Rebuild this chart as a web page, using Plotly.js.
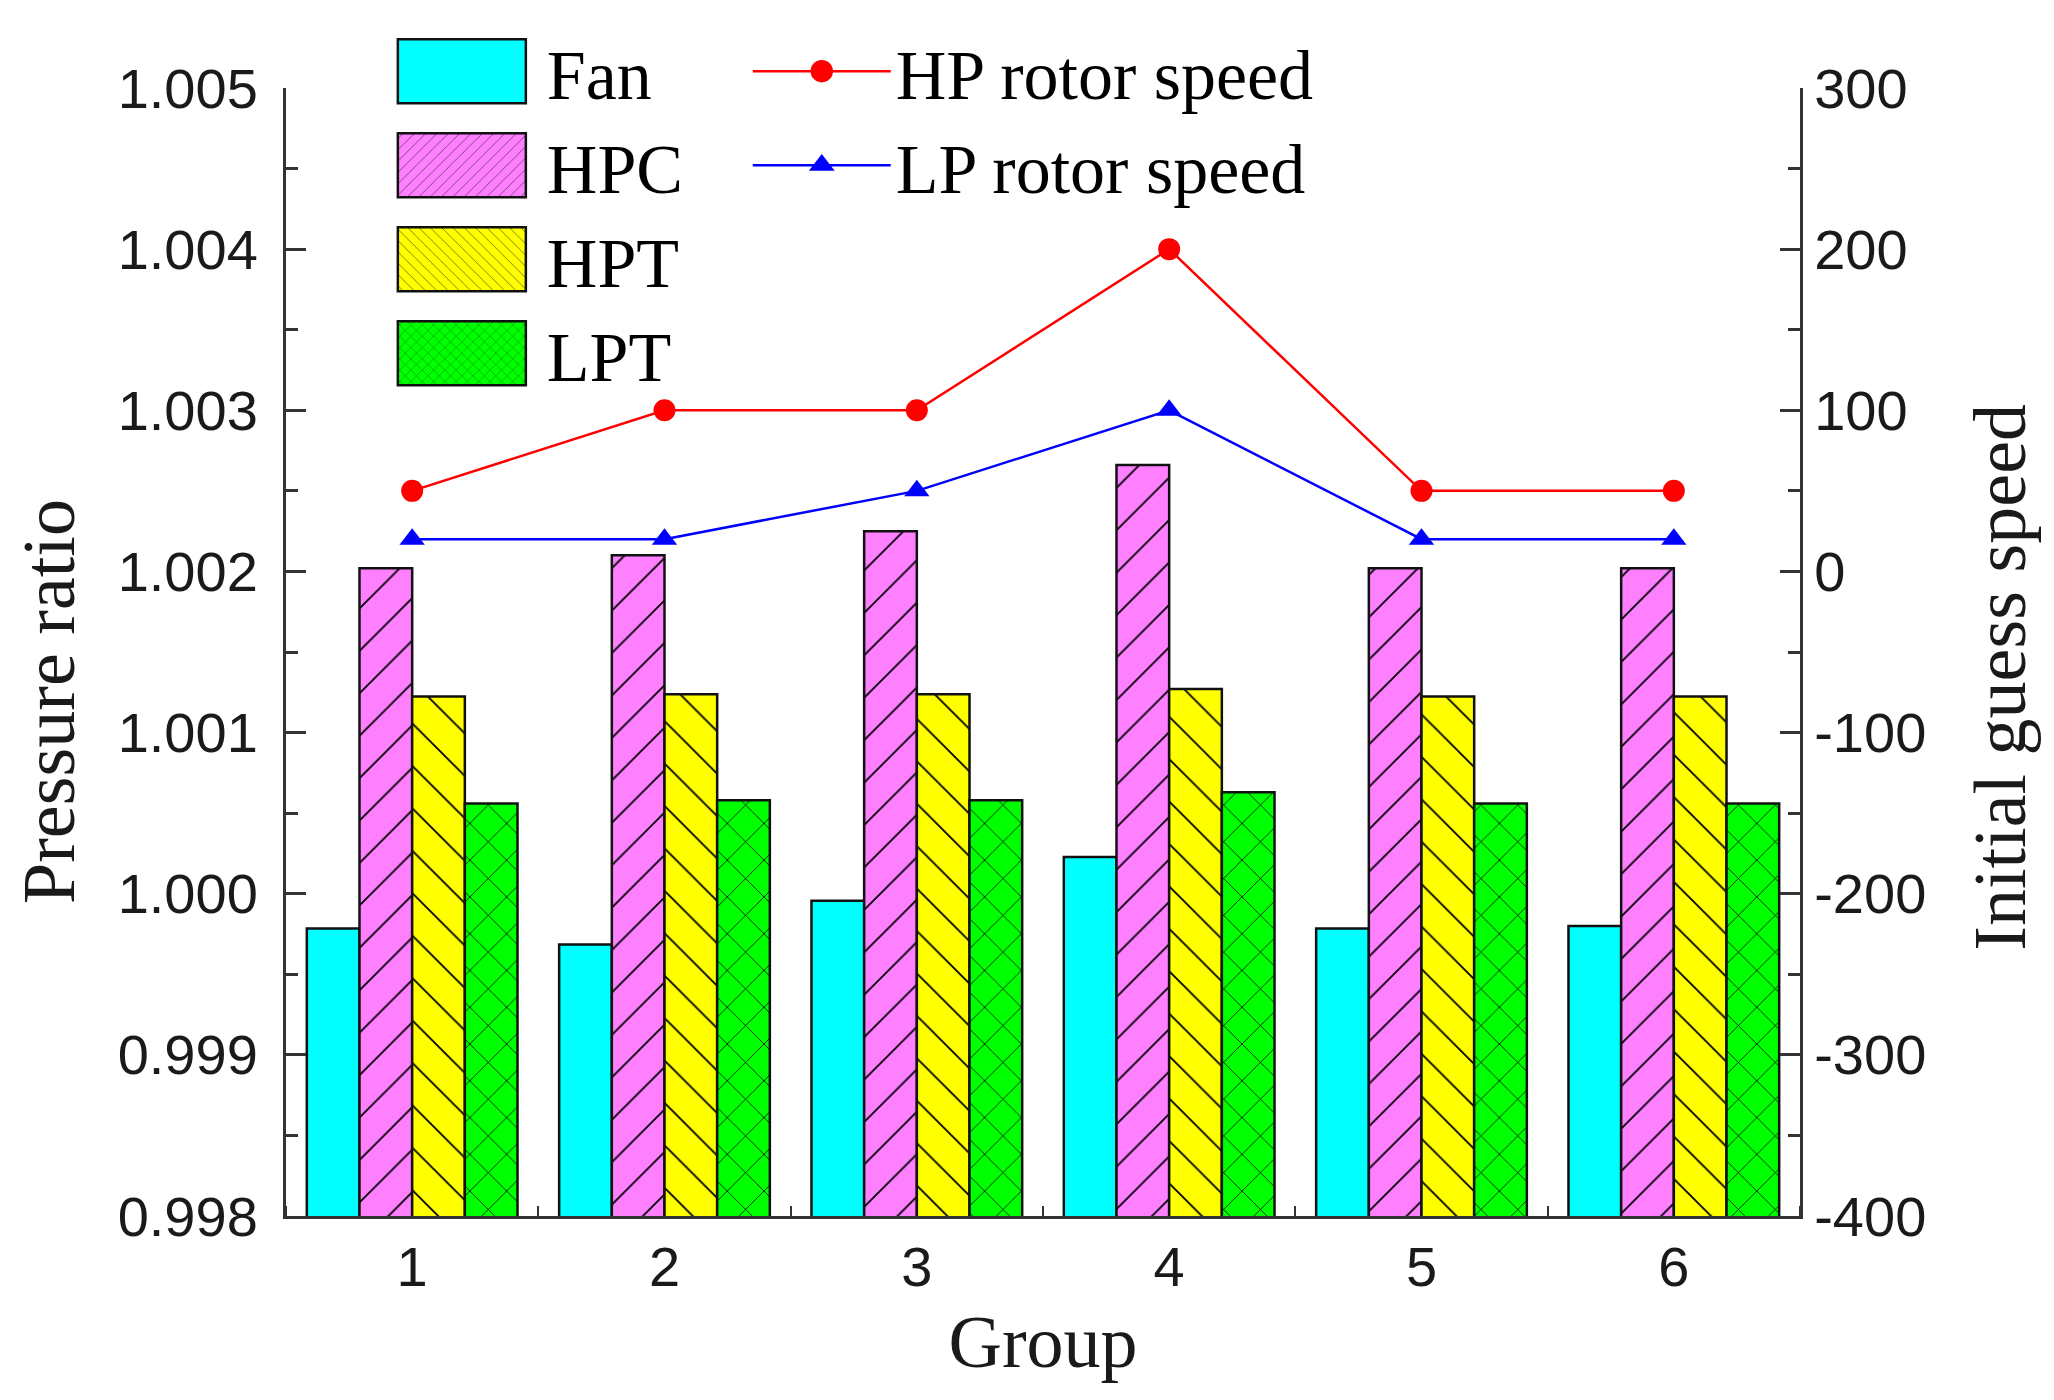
<!DOCTYPE html>
<html>
<head>
<meta charset="utf-8">
<script src="https://cdn.plot.ly/plotly-3.0.1.min.js"></script>
<style>
  html, body { margin: 0; padding: 0; background: #fff; }
  #chart { width: 2054px; height: 1400px; }
</style>
</head>
<body>
<div id="chart"></div>
<script>
// groups on the x axis
const groups = [1, 2, 3, 4, 5, 6];

// pressure ratio per component (left axis)
const fan = [0.999784, 0.999685, 0.999956, 1.000228, 0.999784, 0.999800];
const hpc = [1.002020, 1.002100, 1.002250, 1.002660, 1.002020, 1.002020];
const hpt = [1.001224, 1.001238, 1.001238, 1.001270, 1.001224, 1.001224];
const lpt = [1.000560, 1.000580, 1.000580, 1.000630, 1.000560, 1.000560];

// initial guess speed (right axis)
const hpSpeed = [50, 100, 100, 200, 50, 50];
const lpSpeed = [20, 20, 50, 100, 20, 20];

// tick labels
const leftTicks = [0.998, 0.999, 1.000, 1.001, 1.002, 1.003, 1.004, 1.005];
const rightTicks = [-400, -300, -200, -100, 0, 100, 200, 300];

const serif = 'Liberation Serif, Times New Roman, serif';
const sans = 'Liberation Sans, Arial, sans-serif';
const ink = '#1a1a1a';
const axisCol = '#333';

function barTrace(name, y, color, shape, size) {
    const t = {
        type: 'bar',
        name: name,
        x: groups,
        y: y,
        marker: {
            color: color,
            line: { color: '#111', width: 2.5 }
        },
        legend: 'legend'
    };
    if (shape) {
        t.marker.pattern = { shape: shape, fgcolor: '#000', bgcolor: color, size: size, solidity: 0.06 };
    }
    return t;
}

const data = [
    barTrace('Fan', fan, '#00ffff', ''),
    barTrace('HPC', hpc, '#ff80ff', '/', 30),
    barTrace('HPT', hpt, '#ffff00', '\\', 30),
    barTrace('LPT', lpt, '#00ff00', 'x', 26),
    {
        type: 'scatter',
        mode: 'lines+markers',
        name: 'HP rotor speed',
        x: groups,
        y: hpSpeed,
        yaxis: 'y2',
        line: { color: '#ff0000', width: 2.5 },
        marker: { symbol: 'circle', color: '#ff0000', size: 22 },
        legend: 'legend2'
    },
    {
        type: 'scatter',
        mode: 'lines+markers',
        name: 'LP rotor speed',
        x: groups,
        y: lpSpeed,
        yaxis: 'y2',
        line: { color: '#0000ff', width: 2.5 },
        marker: { symbol: 'triangle-up', color: '#0000ff', size: 22 },
        legend: 'legend2'
    }
];

const layout = {
    width: 2054,
    height: 1400,
    paper_bgcolor: '#fff',
    plot_bgcolor: 'rgba(0,0,0,0)',
    margin: { l: 286, r: 254, t: 88, b: 184, autoexpand: false },
    barmode: 'group',
    bargap: 0.165,
    bargroupgap: 0,
    font: { family: sans, color: ink, size: 56 },
    xaxis: {
        range: [0.5, 6.5],
        tickmode: 'array',
        tickvals: groups,
        ticktext: groups.map(String),
        ticks: '',
        showline: true,
        linecolor: axisCol,
        linewidth: 3,
        showgrid: false,
        zeroline: false,
        tickfont: { family: sans, size: 56, color: ink },
        minor: { tickmode: 'linear', tick0: 0.5, dtick: 1, ticks: 'inside', ticklen: 10, tickwidth: 2, tickcolor: axisCol },
        title: { text: 'Group', font: { family: serif, size: 74, color: ink }, standoff: 18 }
    },
    yaxis: {
        range: [0.998, 1.005],
        tickmode: 'array',
        tickvals: leftTicks,
        ticktext: leftTicks.map(v => v.toFixed(3)),
        ticks: 'inside',
        ticklen: 20,
        tickwidth: 3,
        tickcolor: axisCol,
        ticklabelstandoff: 14,
        showline: true,
        linecolor: axisCol,
        linewidth: 3,
        showgrid: false,
        zeroline: false,
        tickfont: { family: sans, size: 56, color: ink },
        minor: { tickmode: 'linear', tick0: 0.9985, dtick: 0.001, ticks: 'inside', ticklen: 12, tickwidth: 3, tickcolor: axisCol }
    },
    yaxis2: {
        overlaying: 'y',
        side: 'right',
        range: [-400, 300],
        tickmode: 'array',
        tickvals: rightTicks,
        ticktext: rightTicks.map(String),
        ticks: 'inside',
        ticklen: 20,
        tickwidth: 3,
        tickcolor: axisCol,
        showline: true,
        linecolor: axisCol,
        linewidth: 3,
        showgrid: false,
        zeroline: false,
        tickfont: { family: sans, size: 56, color: ink },
        minor: { tickmode: 'linear', tick0: -350, dtick: 100, ticks: 'inside', ticklen: 12, tickwidth: 3, tickcolor: axisCol }
    },
    annotations: [
        {
            text: 'Pressure ratio', xref: 'paper', yref: 'paper',
            x: -0.157, y: 0.456, textangle: -90, showarrow: false,
            xanchor: 'center', yanchor: 'middle',
            font: { family: serif, size: 74, color: ink }
        },
        {
            text: 'Initial guess speed', xref: 'paper', yref: 'paper',
            x: 1.132, y: 0.478, textangle: -90, showarrow: false,
            xanchor: 'center', yanchor: 'middle',
            font: { family: serif, size: 74, color: ink }
        }
    ],
    legend: {
        x: 0.06, y: 1.061, xanchor: 'left', yanchor: 'top',
        bgcolor: 'rgba(0,0,0,0)',
        font: { family: serif, size: 70, color: '#000' },
        itemwidth: 160,
        tracegroupgap: 0
    },
    legend2: {
        x: 0.305, y: 1.061, xanchor: 'left', yanchor: 'top',
        bgcolor: 'rgba(0,0,0,0)',
        font: { family: serif, size: 70, color: '#000' },
        itemwidth: 138,
        tracegroupgap: 0
    },
    showlegend: true
};

const gd = document.getElementById('chart');

// legend swatches in the original are much larger than plotly's defaults
function bigSwatches() {
    gd.querySelectorAll('g.legend g.legendpoints path').forEach(function(p) {
        p.setAttribute('d', 'M64,32H-64V-32H64Z');
    });
    gd.querySelectorAll('g.legend2 g.legendpoints path.scatterpts').forEach(function(p) {
        let base = p.getAttribute('data-base');
        if (base === null) {
            base = p.getAttribute('transform') || '';
            p.setAttribute('data-base', base);
        }
        p.setAttribute('transform', base + ' scale(1.4)');
    });
}

Plotly.newPlot(gd, data, layout, { displayModeBar: false, staticPlot: true }).then(function() {
    bigSwatches();
    gd.on('plotly_afterplot', bigSwatches);
    setTimeout(bigSwatches, 50);
});
</script>
</body>
</html>
